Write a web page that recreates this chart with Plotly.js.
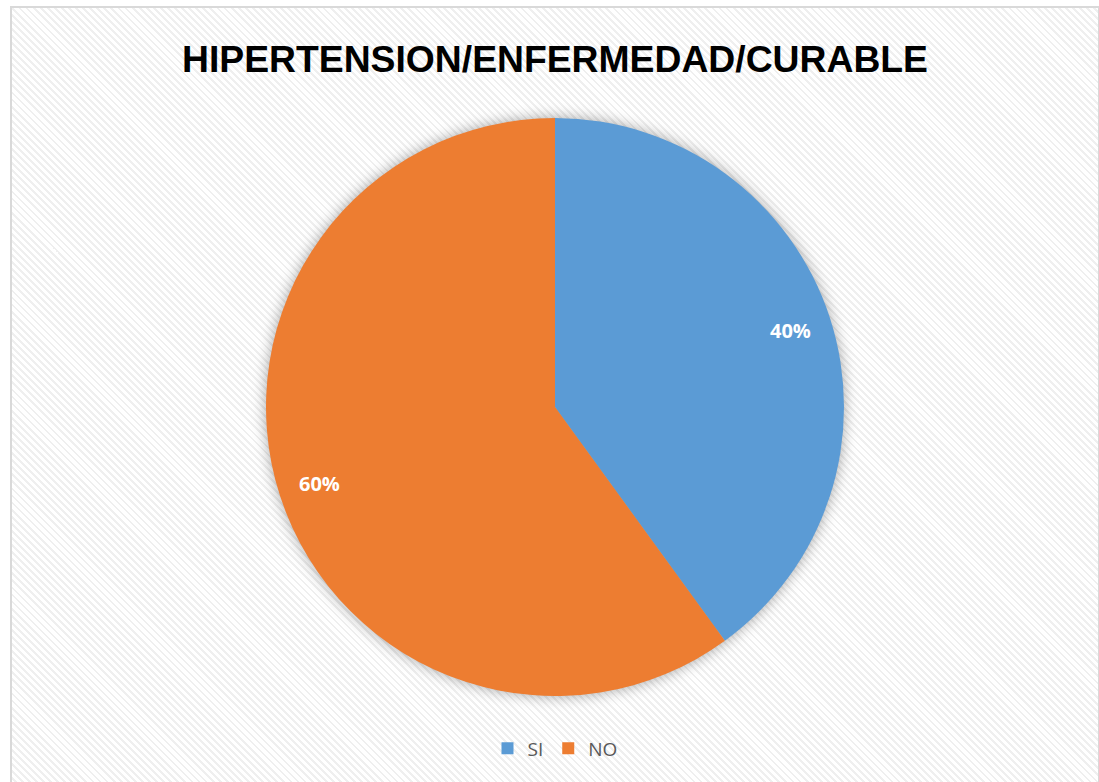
<!DOCTYPE html>
<html>
<head>
<meta charset="utf-8">
<script src="https://cdn.plot.ly/plotly-3.0.1.min.js"></script>
<style>
  html, body { margin: 0; padding: 0; width: 1099px; height: 782px; overflow: hidden; background: #ffffff; }
  #frame {
    position: absolute; left: 10px; top: 6px; width: 1090px; height: 780px;
    border: 2px solid #d9d9d9; box-sizing: border-box;
    background: repeating-linear-gradient(45deg, #ffffff 0px, #ffffff 3px, #efefef 3px, #efefef 5px);
  }
  #chart { position: absolute; left: 0; top: 0; width: 1099px; height: 782px; }
  .pielayer { filter: drop-shadow(0px 0px 7px rgba(0,0,0,0.35)); }
</style>
</head>
<body>
<div id="frame"></div>
<div id="chart"></div>
<script>
const categories = ["SI", "NO"];
const values = [40, 60];
const colors = ["#5b9bd5", "#ed7d31"];
const chartTitle = "HIPERTENSION/ENFERMEDAD/CURABLE";

// label positions derived from the data (mid-angle of each slice, clockwise from 12 o'clock)
const total = values.reduce((a, b) => a + b, 0);
const labelRadius = 0.855;
let cum = 0;
const annotations = values.map((v, i) => {
  const mid = (cum + v / 2) / total * 2 * Math.PI;
  cum += v;
  return {
    xref: "paper", yref: "paper",
    x: 0.5 + 0.5 * labelRadius * Math.sin(mid),
    y: 0.5 + 0.5 * labelRadius * Math.cos(mid),
    text: "<b>" + Math.round(v / total * 100) + "%</b>",
    showarrow: false,
    font: { family: "Open Sans, Liberation Sans, sans-serif", size: 20, color: "#ffffff" },
    xanchor: "center", yanchor: "middle"
  };
});

const data = [{
  type: "pie",
  labels: categories,
  values: values,
  marker: { colors: colors, line: { width: 0 } },
  sort: false,
  direction: "clockwise",
  rotation: 0,
  textinfo: "none",
  hoverinfo: "label+percent"
}];

const layout = {
  width: 1099, height: 782,
  margin: { l: 266, r: 255, t: 118, b: 86 },
  paper_bgcolor: "rgba(0,0,0,0)",
  plot_bgcolor: "rgba(0,0,0,0)",
  title: {
    text: "<b>" + chartTitle + "</b>",
    font: { family: "Liberation Sans, Arial, sans-serif", size: 37.3, color: "#000000" },
    x: 0.5, xanchor: "center", xref: "paper",
    y: 0.924, yanchor: "middle", yref: "container"
  },
  showlegend: true,
  legend: {
    orientation: "h",
    x: 0.5, xanchor: "center", xref: "paper",
    y: -0.058, yanchor: "top",
    font: { family: "Open Sans, Liberation Sans, sans-serif", size: 19, color: "#595959" },
    itemwidth: 30,
    traceorder: "normal",
    bgcolor: "rgba(0,0,0,0)"
  },
  annotations: annotations
};

Plotly.newPlot("chart", data, layout, { displayModeBar: false, staticPlot: true });
</script>
</body>
</html>
